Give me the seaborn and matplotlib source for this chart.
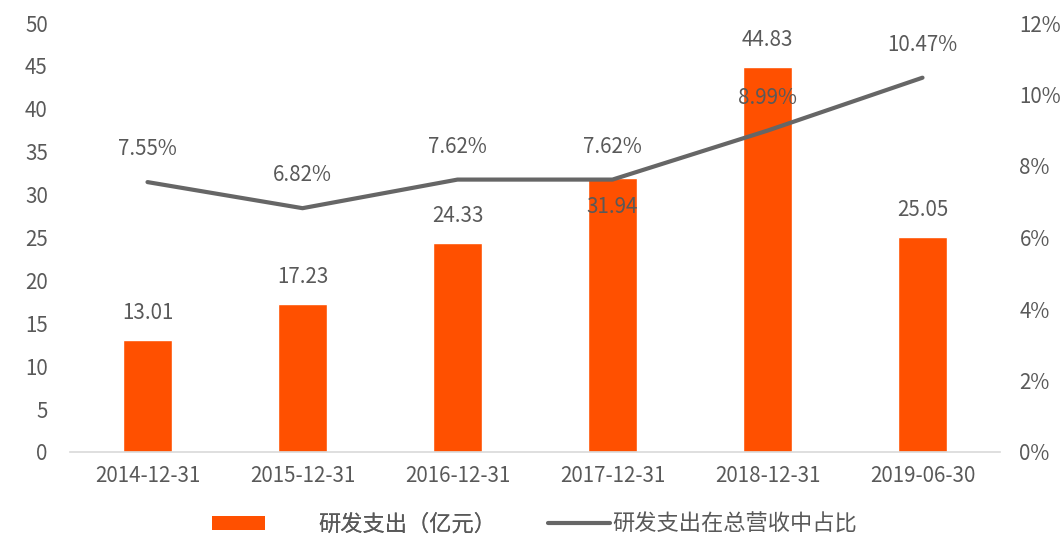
import matplotlib
matplotlib.use("Agg")
import matplotlib.pyplot as plt
import seaborn as sns
import pandas as pd
import numpy as np
from matplotlib.ticker import FuncFormatter
from matplotlib.lines import Line2D
from matplotlib.patches import Patch

categories = ["2014-12-31", "2015-12-31", "2016-12-31", "2017-12-31", "2018-12-31", "2019-06-30"]
rd_spend = [13.01, 17.23, 24.33, 31.94, 44.83, 25.05]
rd_ratio = [7.55, 6.82, 7.62, 7.62, 8.99, 10.47]
bar_label_name = "研发支出（亿元）"
line_label_name = "研发支出在总营收中占比"

sns.set_theme(style="white")
plt.rcParams['font.family'] = ['Noto Sans CJK SC', 'DejaVu Sans']

text_color = "#595959"
bar_color = "#FF5000"
line_color = "#666666"
fs = 14.8
lfs = 16

df = pd.DataFrame({"date": categories, "spend": rd_spend, "ratio": rd_ratio, "pos": np.arange(len(categories))})

fig = plt.figure(figsize=(10.62, 5.44), dpi=100)
ax = fig.add_axes([70/1062, (544-452)/544, 930/1062, (452-23)/544])
sns.barplot(data=df, x="date", y="spend", color=bar_color, width=0.31, ax=ax, saturation=1)
ax.set_ylim(0, 50)
ax.set_xlim(-0.5, len(categories) - 0.5)
ax.set_yticks(np.arange(0, 51, 5))
ax.set_xlabel("")
ax.set_ylabel("")
for s in ["top", "right", "left"]:
    ax.spines[s].set_visible(False)
ax.spines["bottom"].set_color("#d9d9d9")
ax.spines["bottom"].set_linewidth(1.2)
ax.tick_params(axis="both", length=0, labelsize=fs, colors=text_color)
ax.tick_params(axis="y", pad=16)
ax.tick_params(axis="x", pad=9)

ax2 = ax.twinx()
sns.lineplot(data=df, x="pos", y="ratio", color=line_color, linewidth=3, ax=ax2)
ax2.set_ylim(0, 12)
ax2.set_xlim(-0.5, len(categories) - 0.5)
ax2.set_yticks(np.arange(0, 13, 2))
ax2.yaxis.set_major_formatter(FuncFormatter(lambda v, p: f"{v:.0f}%"))
ax2.set_xlabel("")
ax2.set_ylabel("")
for s in ["top", "right", "left", "bottom"]:
    ax2.spines[s].set_visible(False)
ax2.tick_params(axis="y", length=0, labelsize=fs, colors=text_color, pad=14)

for i, v in enumerate(rd_spend):
    off = 27 if i != 3 else -29
    ax.annotate(f"{v:.2f}", (i, v), xytext=(0, off * 0.72), textcoords="offset points",
                ha="center", va="center", fontsize=fs, color=text_color)
for i, v in enumerate(rd_ratio):
    ax2.annotate(f"{v:.2f}%", (i, v), xytext=(0, 33 * 0.72), textcoords="offset points",
                 ha="center", va="center", fontsize=fs, color=text_color)

leg_y = 1 - 524/544
leg1 = fig.legend([Patch(facecolor=bar_color, edgecolor="none")], [bar_label_name],
                  loc="center left", bbox_to_anchor=(212/1062, leg_y), frameon=False,
                  fontsize=lfs, labelcolor=text_color, handlelength=2.4, handleheight=0.6,
                  handletextpad=2.4, borderpad=0, borderaxespad=0)
leg2 = fig.legend([Line2D([0], [0], color=line_color, linewidth=3)], [line_label_name],
                  loc="center left", bbox_to_anchor=(548/1062, leg_y), frameon=False,
                  fontsize=lfs, labelcolor=text_color, handlelength=2.8,
                  handletextpad=0.1, borderpad=0, borderaxespad=0)
fig.add_artist(leg1)

fig.savefig("out.png", dpi=100)
